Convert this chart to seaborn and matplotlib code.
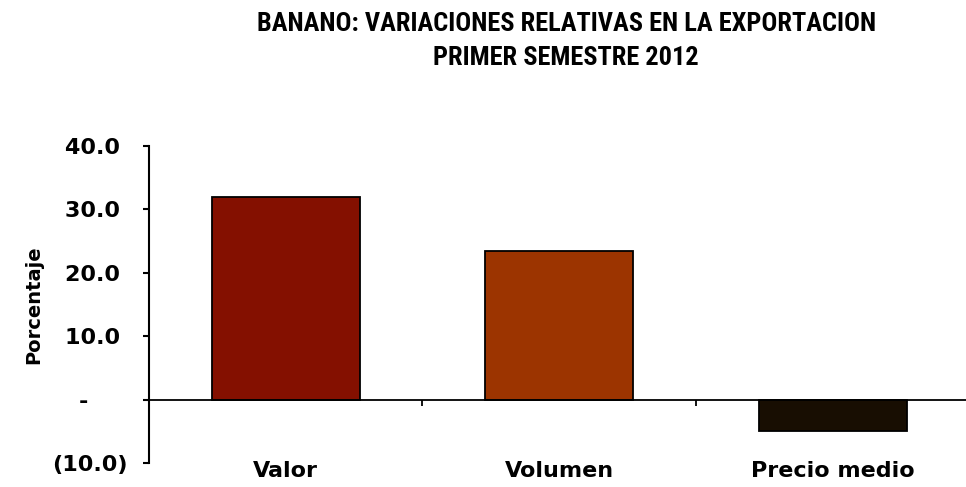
import matplotlib
matplotlib.use("Agg")
import matplotlib.pyplot as plt
from matplotlib import font_manager
import seaborn as sns
import pandas as pd
from matplotlib.ticker import FixedLocator

# Datos: variacion relativa (%) primer semestre 2012
categorias = ['Valor', 'Volumen', 'Precio medio']
variacion = [32.0, 23.5, -5.0]
colores = ['#841000', '#9c3400', '#180e02']
yticks = [-10, 0, 10, 20, 30, 40]
ytick_labels = ['(10.0)', '-     ', '10.0 ', '20.0 ', '30.0 ', '40.0 ']

df = pd.DataFrame({'categoria': categorias, 'variacion': variacion})

sns.set_style('white')
plt.rcParams['font.family'] = ['DejaVu Sans']
plt.rcParams['text.color'] = 'black'
plt.rcParams['axes.labelcolor'] = 'black'
plt.rcParams['xtick.color'] = 'black'
plt.rcParams['ytick.color'] = 'black'

# fuente angosta para el titulo, si existe
nombres = {f.name for f in font_manager.fontManager.ttflist}
fuente_titulo = 'DejaVu Sans'
for cand in ['Liberation Sans Narrow', 'DejaVu Sans Condensed', 'Roboto Condensed', 'Open Sans Condensed']:
    if cand in nombres:
        fuente_titulo = cand
        break

fig = plt.figure(figsize=(9.66, 4.87), dpi=100)
ax = fig.add_axes([0.154, 0.0493, 0.85, 0.651])

sns.barplot(data=df, x='categoria', y='variacion', hue='categoria',
            palette=colores, legend=False, width=0.54, saturation=1,
            edgecolor='black', linewidth=1.3, ax=ax)

ax.set_xlim(-0.5, 2.5)
ax.set_ylim(-10, 40)

# ejes
for s in ['top', 'right']:
    ax.spines[s].set_visible(False)
ax.spines['left'].set_linewidth(1.5)
ax.spines['left'].set_color('black')
ax.spines['bottom'].set_position(('data', 0))
ax.spines['bottom'].set_linewidth(1.3)
ax.spines['bottom'].set_color('black')

ax.set_yticks(yticks)
ax.set_yticklabels(ytick_labels, fontsize=16, fontweight='bold')
ax.tick_params(axis='y', direction='out', length=4.3, width=1.5, pad=11, left=True)

ax.xaxis.set_minor_locator(FixedLocator([0.5, 1.5]))
ax.tick_params(axis='x', which='minor', direction='out', length=4.5, width=1.3, bottom=True)
ax.tick_params(axis='x', which='major', length=0, pad=44)
ax.set_xticks(range(len(categorias)))
ax.set_xticklabels(categorias, fontsize=16, fontweight='bold')
ax.set_xlabel('')
ax.set_ylabel('Porcentaje', fontsize=14, fontweight='bold', labelpad=6)

kw = dict(ha='center', va='center', fontsize=19, fontweight='bold',
          family=[fuente_titulo, 'DejaVu Sans'])
if fuente_titulo == 'DejaVu Sans':
    kw['fontstretch'] = 'condensed'
fig.text(0.586, 0.951, 'BANANO: VARIACIONES RELATIVAS EN LA EXPORTACION', **kw)
fig.text(0.586, 0.881, 'PRIMER SEMESTRE 2012', **kw)

fig.savefig('out.png', dpi=100)
